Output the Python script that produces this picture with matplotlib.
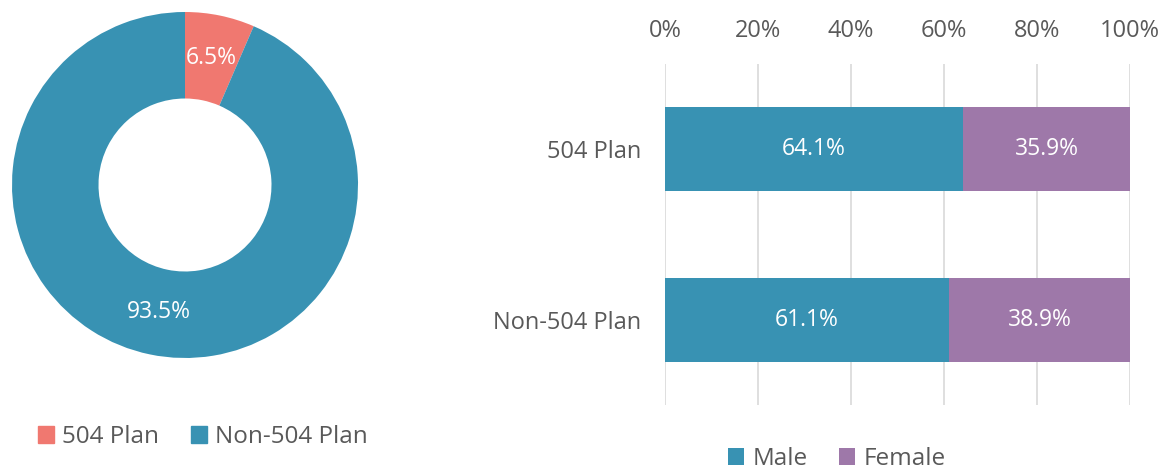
import matplotlib.pyplot as plt
from matplotlib.patches import Patch

plt.rcParams['font.family'] = ['Open Sans', 'DejaVu Sans']

# donut data
plan_labels = ['504 Plan', 'Non-504 Plan']
plan_share = [6.5, 93.5]
plan_colors = ['#F07870', '#3892B3']

# stacked bar data
groups = ['504 Plan', 'Non-504 Plan']
male = [64.1, 61.1]
female = [35.9, 38.9]
gender_colors = ['#3892B3', '#9E78A9']
xticks = [0, 20, 40, 60, 80, 100]

W, H = 1173, 471
fig = plt.figure(figsize=(W / 100, H / 100), dpi=100)

# donut
ax1 = fig.add_axes([12 / W, 113 / H, 346 / W, 346 / H])
wedges, _, autotexts = ax1.pie(
    plan_share, colors=plan_colors, startangle=90, counterclock=False,
    radius=1, autopct='%1.1f%%', pctdistance=0.75,
    wedgeprops=dict(width=0.5, linewidth=0),
    textprops=dict(color='white', fontsize=16.5))
ax1.set_xlim(-1, 1)
ax1.set_ylim(-1, 1)
ax1.set_aspect('equal')

handles1 = [Patch(color=c, label=l) for c, l in zip(plan_colors, plan_labels)]
fig.legend(handles=handles1, loc='center left', bbox_to_anchor=(16 / W, 1 - 437 / H),
           ncol=2, frameon=False, fontsize=17.5, handlelength=0.65, handleheight=0.65,
           handletextpad=0.35, columnspacing=1.3, labelcolor='#595959')

# stacked bars
ax2 = fig.add_axes([665 / W, 1 - 405 / H, (1130 - 665) / W, (405 - 64) / H])
y = list(range(len(groups)))
b1 = ax2.barh(y, male, height=0.49, color=gender_colors[0], label='Male')
b2 = ax2.barh(y, female, left=male, height=0.49, color=gender_colors[1], label='Female')
for bars, vals in ((b1, male), (b2, female)):
    ax2.bar_label(bars, labels=[f'{v:.1f}%' for v in vals], label_type='center',
                  color='white', fontsize=16.5)

ax2.set_xlim(0, 100)
ax2.set_ylim(1.5, -0.5)
ax2.set_xticks(xticks)
ax2.set_xticklabels([f'{t}%' for t in xticks])
ax2.set_yticks(y)
ax2.set_yticklabels(groups)
ax2.xaxis.tick_top()
ax2.tick_params(axis='x', length=0, pad=15, labelsize=17, colors='#595959')
ax2.tick_params(axis='y', length=0, pad=17, labelsize=17, colors='#595959')
ax2.grid(axis='x', color='#D9D9D9', linewidth=1.2)
ax2.set_axisbelow(True)
for s in ax2.spines.values():
    s.set_visible(False)

fig.legend(handles=[b1, b2], labels=['Male', 'Female'], loc='center',
           bbox_to_anchor=(837 / W, 1 - 459 / H), ncol=2, frameon=False,
           fontsize=17.5, handlelength=0.65, handleheight=0.65, handletextpad=0.35,
           columnspacing=1.3, labelcolor='#595959')

fig.savefig('out.png', dpi=100)
